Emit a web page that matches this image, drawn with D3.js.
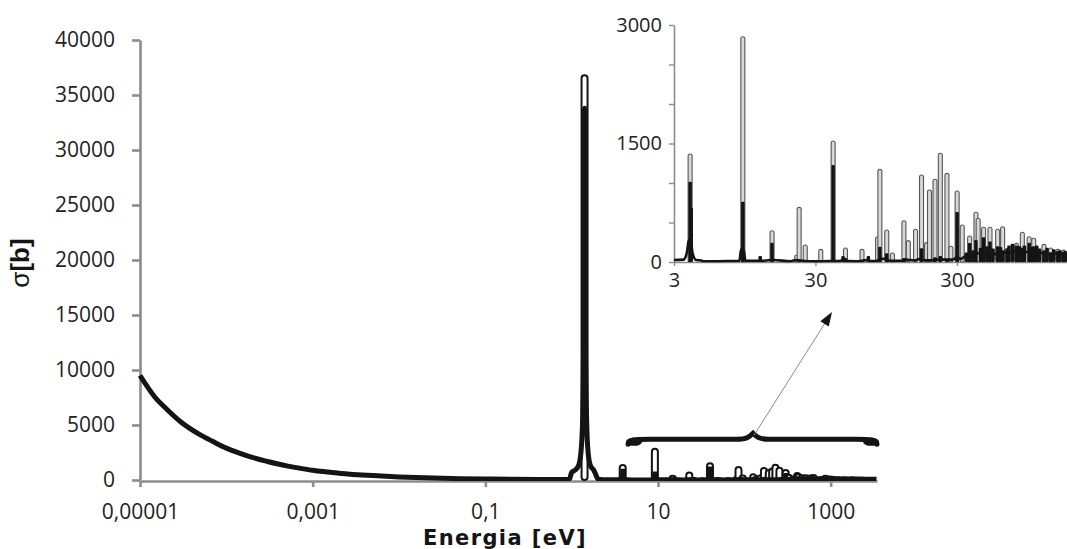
<!DOCTYPE html>
<html>
<head>
<meta charset="utf-8">
<script src="https://cdn.jsdelivr.net/npm/d3@7"></script>
<style>
  html, body { margin: 0; padding: 0; background: #ffffff; }
  svg { display: block; }
</style>
</head>
<body>
<svg id="chart" width="1067" height="549"></svg>
<script>
// ---- Data ----
// Continuous black curve: energy (eV) and cross-section (b)
const curveE = [1e-5, 1.5e-5, 2e-5, 3e-5, 5e-5, 7e-5, 1e-4, 1.5e-4, 2e-4, 3e-4, 5e-4, 7e-4,
  1e-3, 2e-3, 5e-3, 1e-2, 2e-2, 5e-2, 0.1, 0.2, 0.4, 0.7, 0.9,
  0.95, 1.0, 1.1, 1.2, 1.28, 1.34, 1.37, 1.39, 1.41, 1.43, 1.45, 1.49, 1.55, 1.65, 1.8, 1.9, 2.0,
  2.3, 3.0, 3.5, 3.7, 3.82, 3.95, 4.05, 4.3, 4.7, 4.75, 6, 8.7, 8.95, 9.3, 9.6, 12, 12.3, 12.5,
  14.5, 15.2, 20, 22, 25, 30, 38, 42, 46, 48, 50, 60, 70, 72, 80, 88, 95, 100, 120, 130, 150,
  165, 180, 200, 220, 250, 280, 300, 320, 350, 380, 420, 460, 500, 560, 620, 700, 780, 850,
  950, 1050, 1150, 1300, 1450, 1600, 1800, 2200, 2800, 3400];
const curveS = [9500, 7500, 6500, 5250, 4100, 3500, 2900, 2380, 2050, 1680, 1280, 1080,
  880, 620, 400, 280, 200, 125, 90, 65, 48, 40, 40,
  150, 700, 900, 1300, 2500, 5500, 11000, 20000, 33800, 20000, 11000, 5500, 2500, 1300, 900, 500, 100,
  30, 25, 30, 120, 280, 280, 120, 25, 20, 10, 10, 15, 160, 160, 15, 15, 40, 12,
  25, 25, 10, 25, 12, 8, 12, 12, 20, 30, 12, 10, 25, 12, 12, 40, 40, 15, 15, 30, 20,
  40, 20, 20, 30, 30, 30, 60, 40, 80, 70, 110, 100, 120, 100, 130, 110, 140, 120,
  130, 110, 120, 100, 110, 100, 110, 80, 70, 60];

// Resonance peaks: energy (eV), outlined series height, black series height (b)
const peakE = [1.41, 3.9, 3.97, 9.2, 12.2, 14.8, 22.1, 23.0, 25.4, 32.7, 40.0, 47, 48.9, 64, 71,
  82.5, 85.6, 95.7, 105, 126.6, 136, 153, 168.6, 183, 192, 210, 229, 255, 272, 301, 327, 350,
  369, 390, 409, 424, 440, 463, 490, 514, 540, 582, 610, 631, 678, 700, 740, 791, 830, 870, 900,
  972, 1000, 1047, 1100, 1150, 1236, 1300, 1380, 1450, 1550, 1600, 1700, 1750];
const peakA = [36800, 1367, 0, 2852, 0, 396, 89, 692, 215, 160, 1532, 0, 177, 160, 0,
  320, 1173, 405, 114, 523, 270, 414, 1101, 245, 912, 1047, 1376, 1122, 200, 899, 468, 0,
  329, 0, 629, 553, 0, 439, 0, 439, 0, 414, 0, 447, 150, 0, 0, 236, 0, 376, 0,
  320, 0, 300, 0, 0, 223, 0, 177, 0, 160, 0, 150, 0];
const peakB = [0, 1016, 683, 763, 76, 245, 0, 30, 0, 0, 1228, 76, 50, 0, 76,
  0, 194, 110, 0, 50, 0, 0, 173, 0, 0, 60, 76, 40, 0, 633, 0, 120,
  240, 150, 278, 0, 180, 312, 200, 258, 170, 200, 190, 150, 173, 210, 230, 210, 200, 180, 210,
  245, 190, 200, 210, 170, 150, 180, 120, 160, 140, 150, 130, 140];

const mainYTicks = [0, 5000, 10000, 15000, 20000, 25000, 30000, 35000, 40000];
const mainXTicks = [1e-5, 1e-3, 0.1, 10, 1000];
const mainXLabels = ["0,00001", "0,001", "0,1", "10", "1000"];
const insetYTicks = [0, 500, 1000, 1500, 2000, 2500, 3000];
const insetYLabels = ["0", "", "", "1500", "", "", "3000"];
const insetXTicks = [3, 30, 300];
const insetXLabels = ["3", "30", "300"];

// ---- Drawing ----
const svg = d3.select("#chart");
const axisGray = "#8c8c8c";
const ink = "#141414";
const tickFont = "'Open Sans', 'Noto Sans', sans-serif";

const curve = curveE.map((e, i) => ({e, s: curveS[i]}));
const peaks = peakE.map((e, i) => ({e, a: peakA[i], b: peakB[i]}));

const defs = svg.append("defs");
defs.append("clipPath").attr("id", "clipMain").append("rect")
  .attr("x", 130).attr("y", 0).attr("width", 748).attr("height", 481);
defs.append("clipPath").attr("id", "clipInset").append("rect")
  .attr("x", 674).attr("y", 0).attr("width", 393).attr("height", 262.5);

function drawPanel(opt) {
  const {x, y, clip, g} = opt;
  const plot = g.append("g").attr("clip-path", `url(#${clip})`);
  // outlined series
  plot.selectAll("rect.a").data(peaks.filter(d => d.a > 0 && d.e >= x.domain()[0] && d.e <= x.domain()[1]))
    .join("rect").attr("class", "a")
    .attr("x", d => x(d.e) - opt.aw / 2)
    .attr("y", d => y(d.a))
    .attr("width", opt.aw)
    .attr("height", d => y(0) - y(d.a))
    .attr("rx", opt.aw / 2)
    .attr("fill", opt.aFill)
    .attr("stroke", opt.aStroke)
    .attr("stroke-width", opt.aSw);
  // black continuous curve
  const line = d3.line().x(d => x(d.e)).y(d => y(d.s)).curve(d3.curveMonotoneX);
  plot.append("path").datum(curve.filter(d => d.e >= x.domain()[0] * 0.7))
    .attr("d", line)
    .attr("fill", "none")
    .attr("stroke", ink)
    .attr("stroke-width", opt.lineW)
    .attr("stroke-linejoin", "round");
  // black series resonances
  plot.selectAll("rect.b").data(peaks.filter(d => d.b > 0 && d.e >= x.domain()[0] && d.e <= x.domain()[1]))
    .join("rect").attr("class", "b")
    .attr("x", d => x(d.e) - opt.bw / 2)
    .attr("y", d => y(d.b))
    .attr("width", opt.bw)
    .attr("height", d => y(0) - y(d.b))
    .attr("rx", 1)
    .attr("fill", ink);
}

// ---- Main chart ----
const mx = d3.scaleLog().domain([1e-5, 3440]).range([140, 877]);
const my = d3.scaleLinear().domain([0, 40000]).range([480, 40]);
const gMain = svg.append("g");

const yAxisMain = gMain.append("g").attr("transform", "translate(140,0)")
  .call(d3.axisLeft(my).tickValues(mainYTicks).tickSize(8).tickSizeOuter(0).tickPadding(17)
    .tickFormat(d => String(d)));
const xAxisMain = gMain.append("g").attr("transform", "translate(0,481)")
  .call(d3.axisBottom(mx).tickValues(mainXTicks).tickSize(6).tickSizeOuter(0).tickPadding(17)
    .tickFormat((d, i) => mainXLabels[i]));
[yAxisMain, xAxisMain].forEach(a => {
  a.select(".domain").attr("stroke", axisGray).attr("stroke-width", 2.6);
  a.selectAll(".tick line").attr("stroke", axisGray).attr("stroke-width", 2.6);
  a.selectAll(".tick text").attr("font-family", tickFont).attr("font-size", 21).attr("fill", "#222");
});

drawPanel({x: mx, y: my, clip: "clipMain", g: gMain,
  aw: 6, aFill: "#ffffff", aStroke: ink, aSw: 2, bw: 5, lineW: 5});

// axis titles
const yTitle = svg.append("text")
  .attr("transform", "translate(29,263) rotate(-90)")
  .attr("text-anchor", "middle")
  .attr("font-family", "'Liberation Sans', Arial, sans-serif")
  .attr("font-size", 26)
  .attr("fill", ink);
yTitle.append("tspan").attr("font-weight", "normal").text("σ");
yTitle.append("tspan").attr("font-weight", "bold").text("[b]");
svg.append("text")
  .attr("x", 505).attr("y", 545)
  .attr("text-anchor", "middle")
  .attr("font-family", "'DejaVu Sans', sans-serif")
  .attr("font-size", 21)
  .attr("letter-spacing", 1.4)
  .attr("font-weight", "bold")
  .attr("fill", ink)
  .text("Energia [eV]");

// ---- Inset ----
const ix = d3.scaleLog().domain([3, 1800]).range([674, 1067]);
const iy = d3.scaleLinear().domain([0, 3000]).range([262, 25]);
const gInset = svg.append("g");
const yAxisIn = gInset.append("g").attr("transform", "translate(674,0)")
  .call(d3.axisLeft(iy).tickValues(insetYTicks).tickSize(5).tickSizeOuter(0).tickPadding(7)
    .tickFormat((d, i) => insetYLabels[i]));
const xAxisIn = gInset.append("g").attr("transform", "translate(0,262)")
  .call(d3.axisBottom(ix).tickValues(insetXTicks).tickSize(4).tickSizeOuter(0).tickPadding(7)
    .tickFormat((d, i) => insetXLabels[i]));
[yAxisIn, xAxisIn].forEach(a => {
  a.select(".domain").attr("stroke", axisGray).attr("stroke-width", 1.6);
  a.selectAll(".tick line").attr("stroke", axisGray).attr("stroke-width", 1.4);
  a.selectAll(".tick text").attr("font-family", tickFont).attr("font-size", 20).attr("fill", "#222");
});

drawPanel({x: ix, y: iy, clip: "clipInset", g: gInset,
  aw: 4, aFill: "#d8d8d8", aStroke: "#555", aSw: 1.1, bw: 3.5, lineW: 2.6});

// ---- Brace and arrow annotation ----
const braceL = mx(4.5), braceR = mx(3440), braceMid = mx(126);
const by = my(3700);
svg.append("path")
  .attr("d", `M${braceL},${by + 5} C${braceL},${by} ${braceL + 6},${by} ${braceL + 22},${by}
    L${braceMid - 16},${by} C${braceMid - 6},${by} ${braceMid - 3},${by - 3} ${braceMid},${by - 6}
    C${braceMid + 3},${by - 3} ${braceMid + 6},${by} ${braceMid + 16},${by}
    L${braceR - 22},${by} C${braceR - 6},${by} ${braceR},${by} ${braceR},${by + 5}`)
  .attr("fill", "none").attr("stroke", ink).attr("stroke-width", 5).attr("stroke-linecap", "round");
[braceL + 6, braceR - 6].forEach(cx => {
  svg.append("ellipse").attr("cx", cx).attr("cy", by + 2.5).attr("rx", 8).attr("ry", 4).attr("fill", ink);
});

const ax0 = braceMid + 1, ay0 = by - 4, ax1 = 832, ay1 = 312;
const ang = Math.atan2(ay1 - ay0, ax1 - ax0);
svg.append("line")
  .attr("x1", ax0).attr("y1", ay0)
  .attr("x2", ax1 - 10 * Math.cos(ang)).attr("y2", ay1 - 10 * Math.sin(ang))
  .attr("stroke", "#8a8a8a").attr("stroke-width", 1);
const hl = 14, hw = 5;
const bx = ax1 - hl * Math.cos(ang), byy = ay1 - hl * Math.sin(ang);
svg.append("path")
  .attr("d", `M${ax1},${ay1} L${bx + hw * Math.sin(ang)},${byy - hw * Math.cos(ang)} L${bx - hw * Math.sin(ang)},${byy + hw * Math.cos(ang)} Z`)
  .attr("fill", ink);
</script>
</body>
</html>
